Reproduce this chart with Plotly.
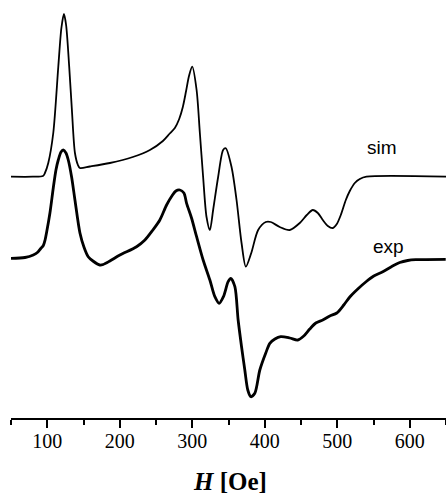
import plotly.graph_objects as go

# Simulated spectrum (H in Oe, intensity in arbitrary units)
sim_H = [50, 80, 94.1, 96.8, 101.4, 108.3, 115.2, 119.5, 123, 126, 130.3, 134, 138.2, 142.3, 145,
         158.9, 186.4, 218, 241.6, 259.5, 269, 276, 282, 287, 291.5, 295.5, 300, 306, 310.5, 315, 319.7,
         324.3, 328.8, 335.7, 342.6, 346.3, 354.2, 361.1, 368, 373.9, 381.4, 390.9, 401.4, 408.3,
         420.7, 434.5, 448.3, 458, 466.3, 473.2, 480.1, 487, 493.9, 499.4, 504.9, 511.8, 517.3,
         524.2, 531.1, 540.3, 650]
sim_I = [241.3, 241.3, 242, 245, 255, 285, 351, 390, 404, 393, 351, 308, 265, 253, 250,
         251.5, 255, 261, 268, 277, 284.5, 290, 299, 311, 327, 342, 351.3, 328, 285, 241, 201,
         188, 208, 241, 268, 269.7, 251, 218, 175, 151.3, 165, 188, 196, 196,
         191, 188, 195, 203, 208, 205, 198, 192, 190, 194, 203, 218, 227,
         235, 239, 241.3, 241.3]

# Experimental spectrum
exp_H = [50, 69.3, 80.7, 87.2, 91, 94.6, 97, 99.2, 103.7, 108.3, 112, 115.2, 119, 122, 125.8, 129,
         133.6, 138.2, 145.1, 150.6, 156.5, 163, 172.6, 177.2, 186.4, 200.2, 223.2, 234.7, 245.7,
         255.3, 264.6, 271.9, 277.4, 282.9, 288.5, 292.2, 299, 306, 315, 324.3, 331.2, 337.1, 343,
         349.5, 353.2, 358.8, 363.3, 368, 372.5, 376.6, 380.8, 386.3, 393.2, 401.4, 407, 414,
         422, 434.5, 445.5, 453.8, 462.1, 470.4, 480, 489.7, 499.4, 509, 517.3, 528.3, 539.3,
         550.4, 562.8, 575.2, 586.2, 597.2, 608.3, 649.6]
exp_I = [159.7, 160.5, 163, 166, 169.5, 172.5, 178, 186, 205, 230, 248, 258, 266, 268, 265, 258,
         241, 218, 185, 171, 161.3, 157, 153, 153.5, 157, 163, 171.3, 178, 188,
         198, 213, 222, 227, 228, 225, 214.7, 200, 181.3, 158, 138, 121.3, 114.7, 121.3,
         136.3, 139.7, 131.3, 98, 71.3, 48, 28, 21.3, 24.7, 48, 65, 74.7, 79,
         81.3, 80, 78, 82, 89, 95, 98, 102, 105, 113, 121, 129, 136,
         142, 146.3, 151.5, 155.5, 157.5, 158.3, 158.7]

tick_vals = [100, 200, 300, 400, 500, 600]
tick_text = ["100", "200", "300", "400", "500", "600"]
labels = ["sim", "exp"]
label_H = [562.1, 570.8]
label_I = [270.7, 171.4]

fig = go.Figure()
fig.add_trace(go.Scatter(x=sim_H, y=sim_I, mode="lines", name="sim",
                         line=dict(color="black", width=1.8, shape="spline", smoothing=0.8)))
fig.add_trace(go.Scatter(x=exp_H, y=exp_I, mode="lines", name="exp",
                         line=dict(color="black", width=2.8, shape="spline", smoothing=0.8)))

for t, x, y in zip(labels, label_H, label_I):
    fig.add_annotation(x=x, y=y, text=t, showarrow=False,
                       font=dict(family="Liberation Sans, Arial", size=19, color="black"),
                       xanchor="center", yanchor="middle")

fig.add_annotation(x=0.5028, y=-0.1519, xref="paper", yref="paper",
                   text="<b><i>H</i> [Oe]</b>", showarrow=False,
                   font=dict(family="Liberation Serif, Times New Roman", size=25, color="black"),
                   xanchor="center", yanchor="middle")

fig.update_layout(
    width=446, height=493,
    margin=dict(l=11, r=0, t=0, b=75, pad=0),
    plot_bgcolor="white", paper_bgcolor="white",
    showlegend=False,
    hovermode=False,
    xaxis=dict(range=[50, 650], showline=True, linecolor="black", linewidth=2,
               ticks="outside", ticklen=8, tickwidth=2, tickcolor="black",
               tickvals=tick_vals, ticktext=tick_text, ticklabelstandoff=-4,
               minor=dict(ticks="outside", ticklen=5, tickwidth=2, tickcolor="black", dtick=50, tick0=50),
               tickfont=dict(family="Liberation Serif, Times New Roman", size=20, color="black"),
               showgrid=False, zeroline=False, automargin=False),
    yaxis=dict(range=[0, 418], visible=False, showgrid=False, zeroline=False),
)

fig.write_html("out.html",
               config={"displayModeBar": False, "staticPlot": True},
               post_script="document.body.style.margin='0';document.body.style.overflow='hidden';")
